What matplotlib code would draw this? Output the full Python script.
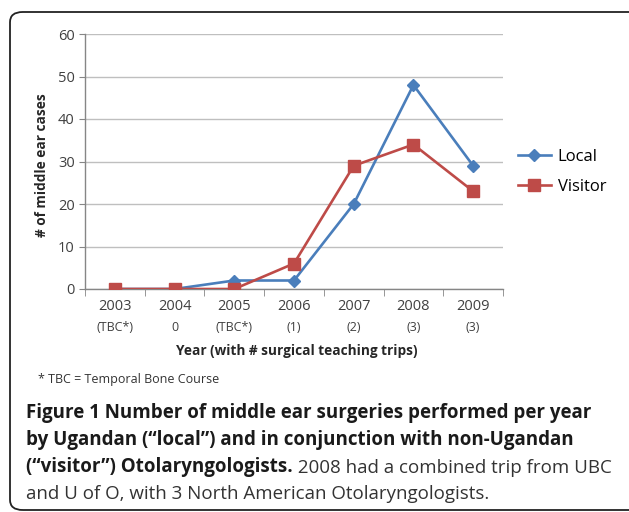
import matplotlib
matplotlib.use("Agg")
import matplotlib.pyplot as plt
from matplotlib.patches import FancyBboxPatch
from matplotlib.ticker import FixedLocator

plt.rcParams['font.family'] = ['Open Sans', 'DejaVu Sans']

years = ["2003", "2004", "2005", "2006", "2007", "2008", "2009"]
trips = ["(TBC*)", "0", "(TBC*)", "(1)", "(2)", "(3)", "(3)"]
local = [0, 0, 2, 2, 20, 48, 29]
visitor = [0, 0, 0, 6, 29, 34, 23]

W, H = 629, 512
fig = plt.figure(figsize=(W / 100, H / 100), dpi=100)
fig.patch.set_facecolor('white')

# rounded frame around the whole panel (right edge runs off the image)
frame = FancyBboxPatch((10 / W, 2 / H), 640 / W, 498 / H,
                       boxstyle="round,pad=0,rounding_size=0.02",
                       transform=fig.transFigure, fill=False,
                       edgecolor='#222222', linewidth=1.3)
fig.patches.append(frame)

ax = fig.add_axes([85 / W, (H - 289) / H, (503 - 85) / W, (289 - 34) / H])
x = list(range(len(years)))
ax.plot(x, local, color='#4A7EBB', lw=1.9, marker='D', ms=6.5, label='Local', zorder=3)
ax.plot(x, visitor, color='#BE4B48', lw=1.9, marker='s', ms=8.5, label='Visitor', zorder=3)

ax.set_xlim(-0.5, 6.5)
ax.set_ylim(0, 60)
ax.set_yticks(range(0, 61, 10))
ax.yaxis.grid(True, color='#BFBFBF', lw=1)
ax.set_axisbelow(True)
for s in ['top', 'right']:
    ax.spines[s].set_visible(False)
for s in ['left', 'bottom']:
    ax.spines[s].set_color('#868686')
    ax.spines[s].set_linewidth(1)
ax.tick_params(axis='y', colors='#868686', length=4, labelcolor='#404040', labelsize=10.5)
ax.set_xticks(x)
ax.set_xticklabels(years)
ax.tick_params(axis='x', length=0, labelcolor='#404040', labelsize=10.5, pad=7)
ax.xaxis.set_minor_locator(FixedLocator([i + 0.5 for i in range(-1, 7)]))
ax.tick_params(axis='x', which='minor', length=5, color='#868686')
for i, t in enumerate(trips):
    ax.text(i, -9.0, t, ha='center', va='center', fontsize=9, color='#404040')

fig.text(42 / W, (H - 165) / H, '# of middle ear cases', fontsize=9.8, fontweight='bold',
         color='#262626', rotation=90, ha='center', va='center')
fig.text(297 / W, (H - 351) / H, 'Year (with # surgical teaching trips)', fontsize=9.8,
         fontweight='bold', color='#262626', ha='center', va='center')

ax.legend(loc='center left', bbox_to_anchor=(518 / W, (H - 172) / H),
          bbox_transform=fig.transFigure, frameon=False, fontsize=12,
          borderpad=0, borderaxespad=0,
          handlelength=1.95, labelspacing=0.85, handletextpad=0.42)

fig.text(38 / W, (H - 380) / H, '* TBC = Temporal Bone Course', fontsize=9,
         color='#333333', va='center')

cap_kw = dict(fontsize=13.5, va='center', color='#1a1a1a')
fig.text(26 / W, (H - 413) / H, 'Figure 1 Number of middle ear surgeries performed per year',
         fontweight='bold', **cap_kw)
fig.text(26 / W, (H - 440) / H, 'by Ugandan (\u201clocal\u201d) and in conjunction with non-Ugandan',
         fontweight='bold', **cap_kw)
b = fig.text(26 / W, (H - 467) / H, '(\u201cvisitor\u201d) Otolaryngologists.',
             fontweight='bold', **cap_kw)
ax.annotate(' 2008 had a combined trip from UBC', xy=(1, 0), xycoords=b,
            va='bottom', ha='left', fontsize=13.5, color='#333333', annotation_clip=False)
fig.text(26 / W, (H - 494) / H, 'and U of O, with 3 North American Otolaryngologists.',
         fontsize=13.5, va='center', color='#333333')

fig.savefig('out.png', dpi=100)
